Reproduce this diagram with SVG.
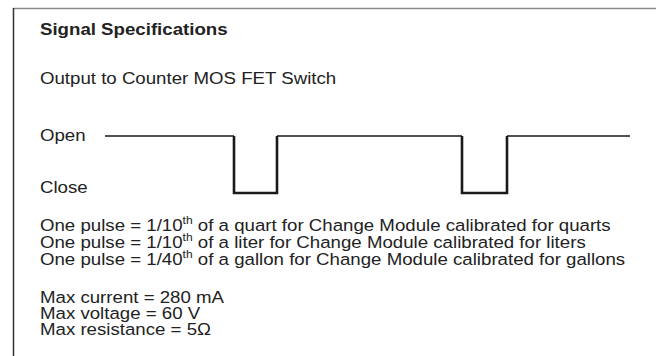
<svg xmlns="http://www.w3.org/2000/svg" width="656" height="356" viewBox="0 0 656 356">
<style>
.t{font-family:"Liberation Sans",Arial,sans-serif;font-size:17px;fill:#222}
.b{font-weight:bold}
.sup{font-size:11px}
.w{fill:none;stroke:#1a1a1a;stroke-width:1.3}
.p{fill:none;stroke:#1a1a1a;stroke-width:2.6;stroke-linejoin:miter}
</style>
<rect width="656" height="356" fill="#fff"/>
<g id="frame">
<line x1="13" y1="8.5" x2="656" y2="8.5" stroke="#8a8a8a" stroke-width="1.6"/>
<line x1="13.5" y1="8" x2="13.5" y2="356" stroke="#333" stroke-width="1.5"/>
</g>
<g id="waveform">
<path class="w" d="M105,136 H234 M277,136 H462 M507,136 H630"/>
<path class="p" d="M234,136 V193 H277 V136"/>
<path class="p" d="M462,136 V193 H507 V136"/>
</g>
<g id="texts" transform="scale(1.098,1)">
<text class="t b" x="36.4" y="35.5">Signal Specifications</text>
<text class="t" x="36.4" y="84">Output to Counter MOS FET Switch</text>
<text class="t" x="36.4" y="141">Open</text>
<text class="t" x="36.4" y="193">Close</text>
<text class="t" x="36.4" y="231">One pulse = 1/10<tspan class="sup" dy="-7">th</tspan><tspan dy="7"> of a quart for Change Module calibrated for quarts</tspan></text>
<text class="t" x="36.4" y="248">One pulse = 1/10<tspan class="sup" dy="-7">th</tspan><tspan dy="7"> of a liter for Change Module calibrated for liters</tspan></text>
<text class="t" x="36.4" y="265">One pulse = 1/40<tspan class="sup" dy="-7">th</tspan><tspan dy="7"> of a gallon for Change Module calibrated for gallons</tspan></text>
<text class="t" x="36.4" y="303">Max current = 280 mA</text>
<text class="t" x="36.4" y="319">Max voltage = 60 V</text>
<text class="t" x="36.4" y="335">Max resistance = 5Ω</text>
</g>
</svg>
